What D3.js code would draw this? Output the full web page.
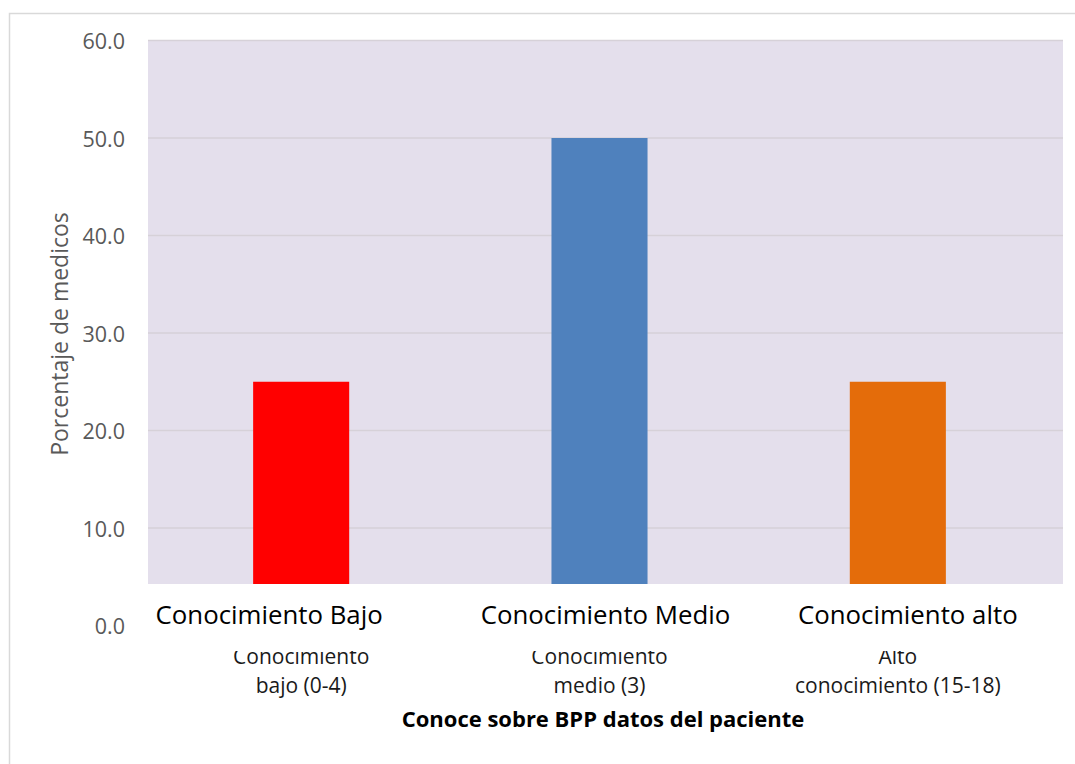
<!DOCTYPE html>
<html><head><meta charset="utf-8">
<script src="https://cdn.jsdelivr.net/npm/d3@7"></script>
<style>body{margin:0;background:#fff}svg{display:block}</style>
</head><body>
<script>
const categories = ["bajo", "medio", "alto"];
const axisLabels = [["Conocimiento", "bajo (0-4)"], ["Conocimiento", "medio (3)"], ["Alto", "conocimiento (15-18)"]];
const overlayLabels = ["Conocimiento Bajo", "Conocimiento Medio", "Conocimiento alto"];
const values = [25.0, 50.0, 25.0];
const barColors = ["#ff0000", "#4f81bd", "#e46c0a"];
const yTicks = [0, 10, 20, 30, 40, 50, 60];
const yTitle = "Porcentaje de medicos";
const xTitle = "Conoce sobre BPP datos del paciente";

const W = 1075, H = 764;
const svg = d3.select("body").append("svg").attr("width", W).attr("height", H);
const font = "'Open Sans', 'Noto Sans', sans-serif";

// outer frame (only left and top visible)
svg.append("path").attr("d", `M9.5,${H} V13.5 H${W}`).attr("fill", "none").attr("stroke", "#d9d9d9").attr("stroke-width", 1.5);

const y = d3.scaleLinear().domain([0, 60]).range([625.5, 40.5]);
const x = d3.scaleBand().domain(categories).range([152, 1047]).paddingInner(0.678).paddingOuter(0.339);
const plotL = 148, plotR = 1063;

// plot background
svg.append("rect").attr("x", plotL).attr("y", y(60)).attr("width", plotR - plotL).attr("height", y(0) - y(60)).attr("fill", "#e4dfec");

// gridlines
svg.append("g").selectAll("line").data(yTicks.filter(t => t > 0)).join("line")
  .attr("x1", plotL).attr("x2", plotR).attr("y1", d => y(d)).attr("y2", d => y(d))
  .attr("stroke", "#d6d1d8").attr("stroke-width", 1.5);

// bars
svg.append("g").selectAll("rect").data(values).join("rect")
  .attr("x", (d, i) => x(categories[i])).attr("width", x.bandwidth())
  .attr("y", d => y(d)).attr("height", d => y(0) - y(d))
  .attr("fill", (d, i) => barColors[i]);

// y tick labels
svg.append("g").selectAll("text").data(yTicks).join("text")
  .attr("x", 125).attr("y", d => y(d) + 1).attr("dy", "0.35em")
  .attr("text-anchor", "end").attr("font-family", font).attr("font-size", 21.5).attr("fill", "#595959")
  .text(d => d.toFixed(1));

// category axis labels (two lines)
const cl = svg.append("g").selectAll("text").data(axisLabels).join("text")
  .attr("text-anchor", "middle").attr("font-family", font).attr("font-size", 21).attr("fill", "#1a1a1a");
cl.each(function(lines, i) {
  const cx = x(categories[i]) + x.bandwidth() / 2;
  d3.select(this).selectAll("tspan").data(lines).join("tspan")
    .attr("x", cx).attr("y", (l, j) => 664 + j * 29).text(l => l);
});

// white overlay box covering bottom of plot and top of axis labels
svg.append("rect").attr("x", plotL - 2).attr("y", 584).attr("width", W - plotL).attr("height", 651 - 584).attr("fill", "#fff");

// overlay labels
const offs = [-32, 6, 10];
svg.append("g").selectAll("text").data(overlayLabels).join("text")
  .attr("x", (d, i) => x(categories[i]) + x.bandwidth() / 2 + offs[i]).attr("y", 624)
  .attr("text-anchor", "middle").attr("font-family", font).attr("font-size", 25.8).attr("fill", "#000")
  .text(d => d);

// y title
svg.append("text").attr("transform", "translate(60,334) rotate(-90)").attr("dy", "0.35em")
  .attr("text-anchor", "middle").attr("font-family", font).attr("font-size", 23).attr("fill", "#595959").text(yTitle);

// x title
svg.append("text").attr("x", 603).attr("y", 727).attr("text-anchor", "middle")
  .attr("font-family", font).attr("font-size", 22).attr("font-weight", "bold").attr("fill", "#000").text(xTitle);
</script>
</body></html>
